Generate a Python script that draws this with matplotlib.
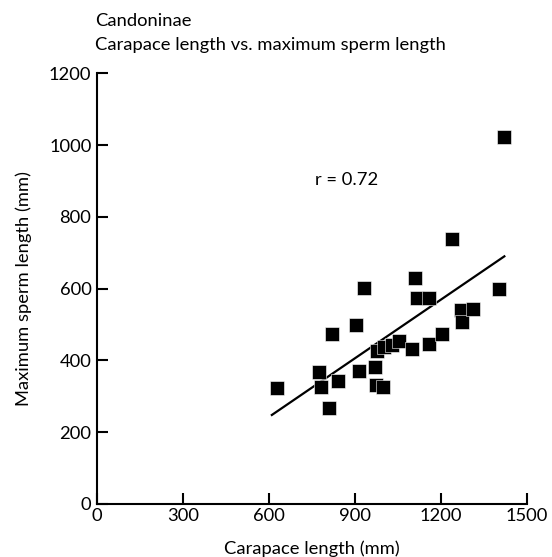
import numpy as np
import matplotlib.pyplot as plt

plt.rcParams['font.family'] = ['Lato', 'DejaVu Sans']

# carapace length vs maximum sperm length
carapace = [628, 773, 780, 808, 821, 840, 903, 914, 932, 970,
            975, 997, 978, 1001, 1028, 1055, 1098, 1109, 1117, 1158,
            1158, 1203, 1240, 1270, 1273, 1310, 1402, 1421]
sperm = [322, 368, 326, 268, 473, 344, 499, 371, 601, 382,
         331, 325, 427, 438, 443, 455, 431, 629, 573, 575,
         445, 474, 737, 540, 506, 542, 600, 1023]

# regression line ends
fit_x = [610, 1421]
fit_y = [248, 690]

r_text = 'r = 0.72'
x_ticks = [0, 300, 600, 900, 1200, 1500]
y_ticks = [0, 200, 400, 600, 800, 1000, 1200]

fs = 13.2

fig = plt.figure(figsize=(5.52, 5.57), dpi=100)
ax = fig.add_axes([0.1757, 0.0952, 0.779, 0.7732])

ax.plot(fit_x, fit_y, color='black', lw=1.6, zorder=2)
ax.scatter(carapace, sperm, marker='s', s=105, color='black',
           edgecolors='white', linewidths=0.4, zorder=3)

ax.text(870, 902, r_text, fontsize=fs, ha='center', va='center')

ax.set_xlim(0, 1500)
ax.set_ylim(0, 1200)
ax.set_xticks(x_ticks)
ax.set_yticks(y_ticks)
ax.tick_params(direction='in', length=8, width=1.5, labelsize=fs, pad=4)
ax.tick_params(axis='x', pad=3)
for s in ['top', 'right']:
    ax.spines[s].set_visible(False)
for s in ['left', 'bottom']:
    ax.spines[s].set_linewidth(1.5)

ax.set_xlabel('Carapace length (mm)', fontsize=fs, labelpad=12)
ax.set_ylabel('Maximum sperm length (mm)', fontsize=fs, labelpad=12)

fig.text(0.172, 0.962, 'Candoninae', fontsize=fs, va='center')
fig.text(0.172, 0.919, 'Carapace length vs. maximum sperm length', fontsize=fs, va='center')

fig.savefig('out.png', dpi=100)
